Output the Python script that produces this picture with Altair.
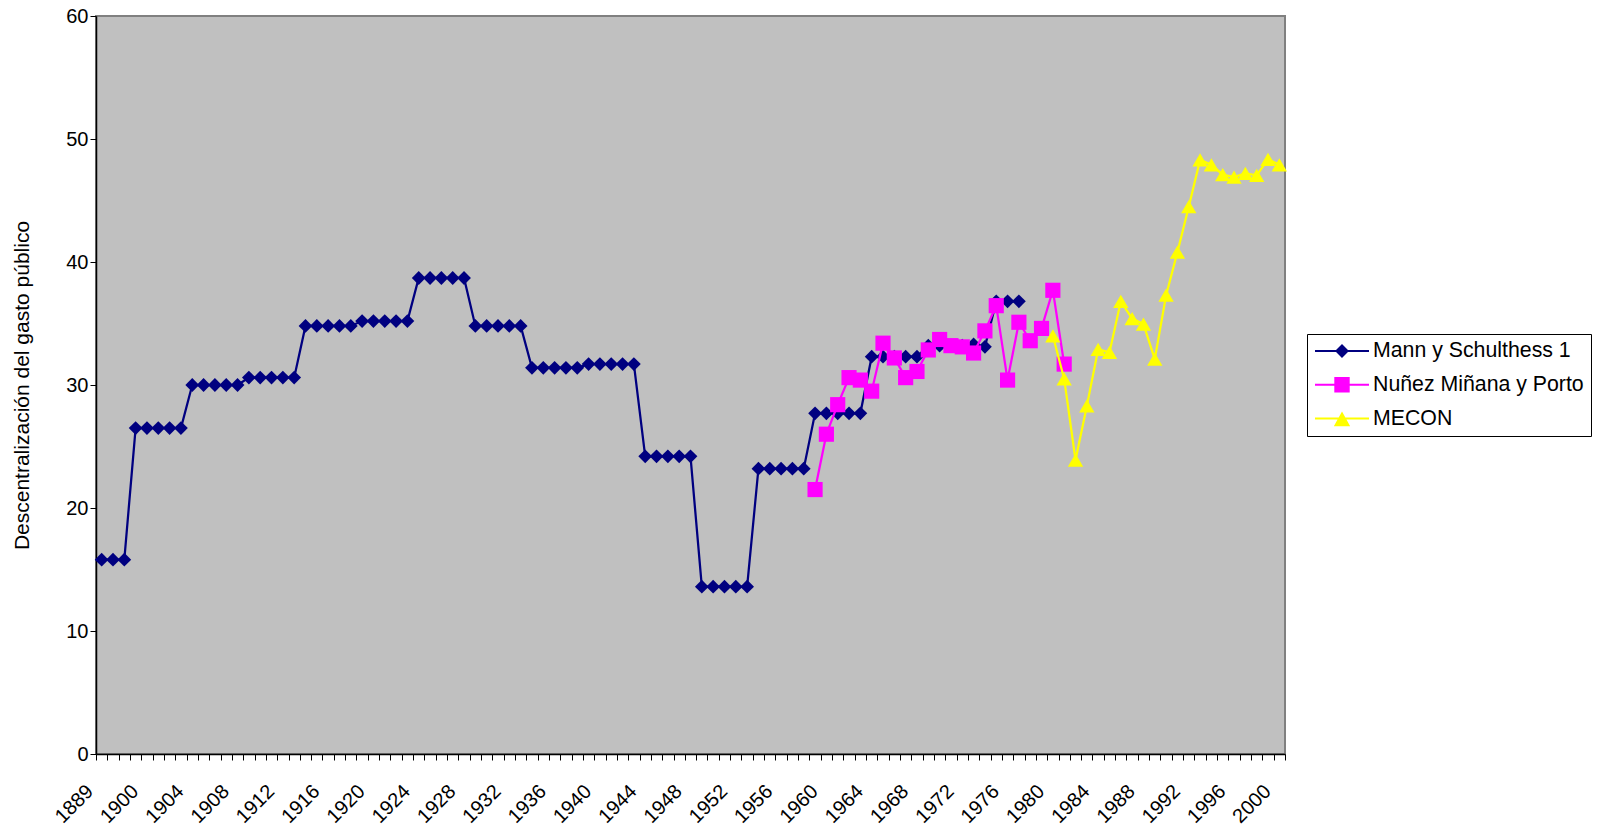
import altair as alt
import pandas as pd

# Category axis (Excel-like category labels)
years = ["1889", "1890", "1895", "1899"] + [str(y) for y in range(1900, 2001)]
label_years = ["1889"] + [str(y) for y in range(1900, 2001, 4)]

series_names = ["Mann y Schulthess 1", "Nuñez Miñana y Porto", "MECON"]
series_colors = ["#000080", "#FF00FF", "#FFFF00"]
series_shapes = ["diamond", "square", "triangle-up"]
series_sizes = [190, 230, 235]

mann_values = [
    15.8, 15.8, 15.8,
    26.5, 26.5, 26.5, 26.5, 26.5,
    30.0, 30.0, 30.0, 30.0, 30.0,
    30.6, 30.6, 30.6, 30.6, 30.6,
    34.8, 34.8, 34.8, 34.8, 34.8,
    35.2, 35.2, 35.2, 35.2, 35.2,
    38.7, 38.7, 38.7, 38.7, 38.7,
    34.8, 34.8, 34.8, 34.8, 34.8,
    31.4, 31.4, 31.4, 31.4, 31.4,
    31.7, 31.7, 31.7, 31.7, 31.7,
    24.2, 24.2, 24.2, 24.2, 24.2,
    13.6, 13.6, 13.6, 13.6, 13.6,
    23.2, 23.2, 23.2, 23.2, 23.2,
    27.7, 27.7, 27.7, 27.7, 27.7,
    32.3, 32.3, 32.3, 32.3, 32.3,
    33.2, 33.2, 33.2, 33.2, 33.3, 33.1,
    36.8, 36.8, 36.8,
]
mann_years = years[0:82]

nunez_values = [21.5, 26.0, 28.4, 30.6, 30.4, 29.5, 33.4, 32.2, 30.6, 31.1, 32.85,
                33.7, 33.2, 33.1, 32.6, 34.4, 36.45, 30.4, 35.1, 33.6, 34.6, 37.7, 31.7]
nunez_years = years[63:86]

mecon_values = [34.0, 30.5, 23.9, 28.3, 32.9, 32.65, 36.8, 35.4, 34.95, 32.1, 37.3,
                40.8, 44.5, 48.3, 47.9, 47.1, 46.9, 47.2, 47.05, 48.35, 47.9]
mecon_years = years[84:105]

rows = []
for name, yrs, vals in [(series_names[0], mann_years, mann_values),
                        (series_names[1], nunez_years, nunez_values),
                        (series_names[2], mecon_years, mecon_values)]:
    for y, v in zip(yrs, vals):
        rows.append({"serie": name, "year": y, "value": v, "idx": years.index(y)})
df = pd.DataFrame(rows)

FONT = "Liberation Sans"


# ---- legend symbols: a line with a (solid-looking) marker, drawn as nested outlines
def _fmt(v):
    return f"{v:.4f}"


def diamond_path(rs):
    return "".join(f"M{_fmt(-r)},0L0,{_fmt(-r)}L{_fmt(r)},0L0,{_fmt(r)}Z" for r in rs)


def square_path(rs):
    return "".join(f"M{_fmt(-r)},{_fmt(-r)}H{_fmt(r)}V{_fmt(r)}H{_fmt(-r)}Z" for r in rs)


def triangle_path(scales, top=-0.19, base=0.25, half=0.24):
    cy = (top + base + base) / 3
    out = ""
    for s in scales:
        ty = cy + s * (top - cy)
        by = cy + s * (base - cy)
        out += f"M0,{_fmt(ty)}L{_fmt(half * s)},{_fmt(by)}H{_fmt(-half * s)}Z"
    return out


legend_shapes = [
    "M-1,0H1" + diamond_path([0.205, 0.155, 0.105, 0.055, 0.01]),
    "M-1,0H1" + square_path([0.248, 0.198, 0.148, 0.098, 0.048, 0.005]),
    "M-1,0H1" + triangle_path([1.0, 0.75, 0.5, 0.25, 0.05]),
]

label_expr = ("indexof([" + ",".join("'" + y + "'" for y in label_years) +
              "], datum.value) >= 0 ? datum.value : ''")

x_enc = alt.X(
    "year:N",
    sort=years,
    scale=alt.Scale(type="band", domain=years, paddingInner=0, paddingOuter=0),
    axis=alt.Axis(
        title=None, values=years, tickBand="extent", labelExpr=label_expr,
        labelAngle=-45, labelAlign="right", labelBaseline="middle",
        labelPadding=28, labelOffset=-12, labelFontSize=20, labelFont=FONT,
        labelColor="black", tickColor="black", tickSize=6, domainColor="black",
        domainWidth=1.5, labelOverlap=False, labelBound=False, labelFlush=False,
        grid=False,
    ),
)
y_enc = alt.Y(
    "value:Q",
    scale=alt.Scale(domain=[0, 60], nice=False),
    axis=alt.Axis(
        title="Descentralización del gasto público", values=[0, 10, 20, 30, 40, 50, 60],
        grid=False, tickSize=6, tickColor="black", labelPadding=2, labelFontSize=20,
        labelFont=FONT, labelColor="black", titleFont=FONT, titleFontSize=21,
        titleFontWeight="normal", titleColor="black", titleX=-64, titleBaseline="bottom",
        domainColor="black", domainWidth=1.5,
    ),
)

legend = alt.Legend(
    title=None, orient="none", legendX=1211, legendY=318,
    fillColor="white", strokeColor="black", padding=7, clipHeight=20,
    rowPadding=11.8, symbolSize=2916, symbolStrokeWidth=2, symbolOffset=0,
    symbolOpacity=1, labelOffset=3, labelFont=FONT, labelFontSize=21.3,
    labelColor="black", labelLimit=400,
)

layers = []
for name, col, shp, sz in zip(series_names, series_colors, series_shapes, series_sizes):
    base = alt.Chart(df).transform_filter(alt.datum.serie == name)
    layers.append(
        base.mark_line(strokeWidth=2.25, color=col).encode(
            x=x_enc, y=y_enc, order=alt.Order("idx:Q"))
    )
    layers.append(
        base.mark_point(filled=True, opacity=1, shape=shp, size=sz, color=col).encode(
            x=x_enc, y=y_enc)
    )

legend_layer = alt.Chart(df).mark_point(filled=False, opacity=0, strokeWidth=2).encode(
    x=x_enc, y=y_enc,
    color=alt.Color("serie:N", scale=alt.Scale(domain=series_names, range=series_colors),
                    legend=legend),
    shape=alt.Shape("serie:N", scale=alt.Scale(domain=series_names, range=legend_shapes),
                    legend=legend),
)
layers.append(legend_layer)

chart = alt.layer(*layers).properties(
    width=1189, height=738,
    autosize=alt.AutoSizeParams(type="none"),
    padding={"left": 88, "top": 8, "right": 307, "bottom": 72},
    background="white",
).configure_view(
    fill="#C0C0C0", stroke="#808080", strokeWidth=2,
)

chart.save("out.html", embed_options={"renderer": "svg", "actions": False})
